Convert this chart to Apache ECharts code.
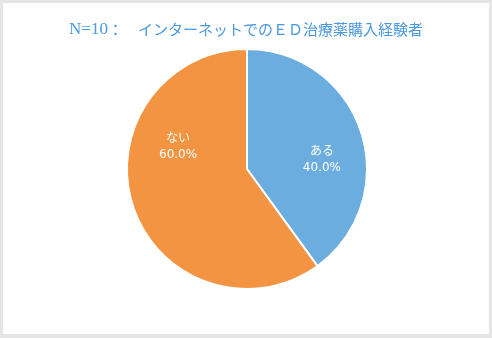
<!DOCTYPE html>
<html>
<head>
<meta charset="utf-8">
<script src="https://cdn.jsdelivr.net/npm/echarts@6/dist/echarts.min.js"></script>
<style>
  html, body { margin: 0; padding: 0; background: #e5e5e5; }
  #chart { position: absolute; left: 3px; top: 3px; width: 486px; height: 331px; background: #ffffff; }
</style>
</head>
<body>
<div id="chart"></div>
<script>
// Survey answers: purchased ED medication online?
const categories = ['ある', 'ない'];
const shares = [40.0, 60.0];
const sliceColors = ['#6caddf', '#f39442'];
const titleCount = 'N=10';
const titleText = '：　インターネットでのＥＤ治療薬購入経験者';

// Label nudges so each label sits in the open part of its slice
const labelOffsets = [[15, 10], [-9, -42]];

const chart = echarts.init(document.getElementById('chart'), null, { renderer: 'canvas' });

chart.setOption({
  animation: false,
  title: {
    text: '{n|' + titleCount + '}{t|' + titleText + '}',
    left: 'center',
    top: 13,
    textStyle: {
      fontWeight: 'normal',
      rich: {
        n: { fontFamily: 'Liberation Serif', fontSize: 17, fontWeight: 'normal', color: '#4a98e0' },
        t: { fontFamily: 'Noto Sans CJK JP', fontSize: 15, fontWeight: 'normal', color: '#4a98e0' }
      }
    }
  },
  series: [{
    type: 'pie',
    center: [244, 166],
    radius: 120,
    startAngle: 90,
    clockwise: true,
    silent: true,
    itemStyle: { borderColor: '#ffffff', borderWidth: 2 },
    label: {
      show: true,
      position: 'inside',
      color: '#ffffff',
      fontFamily: 'DejaVu Sans, Noto Sans CJK JP',
      fontSize: 12,
      lineHeight: 16,
      formatter: p => p.name + '\n' + p.value.toFixed(1) + '%'
    },
    labelLine: { show: false },
    data: categories.map((name, i) => ({
      name,
      value: shares[i],
      itemStyle: { color: sliceColors[i] },
      label: { offset: labelOffsets[i] }
    }))
  }]
});
</script>
</body>
</html>
